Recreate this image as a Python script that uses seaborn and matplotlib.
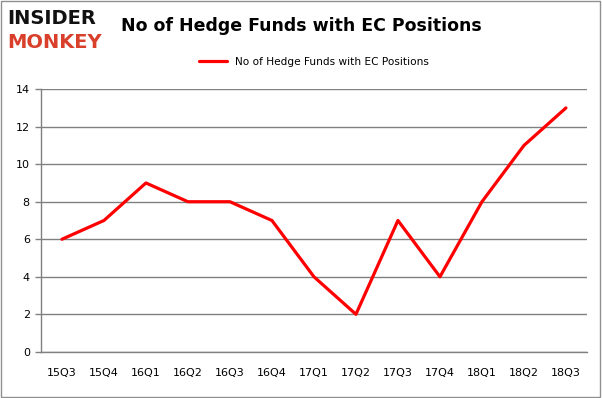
import matplotlib
matplotlib.use("Agg")
import matplotlib.pyplot as plt
import seaborn as sns
import pandas as pd
import numpy as np

quarters = ["15Q3", "15Q4", "16Q1", "16Q2", "16Q3", "16Q4", "17Q1",
            "17Q2", "17Q3", "17Q4", "18Q1", "18Q2", "18Q3"]
funds = [6, 7, 9, 8, 8, 7, 4, 2, 7, 4, 8, 11, 13]
series_name = "No of Hedge Funds with EC Positions"
y_ticks = [0, 2, 4, 6, 8, 10, 12, 14]

sns.set_style("white")
plt.rcParams['font.family'] = ['DejaVu Sans']

df = pd.DataFrame({"quarter": quarters, "funds": funds, "series": series_name})

fig = plt.figure(figsize=(6.02, 3.98), dpi=100)
ax = fig.add_axes([0.068, 0.116, 0.907, 0.660])

sns.lineplot(data=df, x=np.arange(len(quarters)), y="funds", hue="series",
             palette=["#FF0000"], linewidth=2.3, ax=ax)

ax.set_xlim(-0.5, len(quarters) - 0.5)
ax.set_ylim(0, 14)
ax.set_yticks(y_ticks)
ax.set_yticklabels([str(v) for v in y_ticks], fontsize=8, color="black")
ax.set_xticks(range(len(quarters)))
ax.set_xticklabels(quarters, fontsize=8, color="black")
ax.set_xticks(np.arange(-0.5, len(quarters), 1), minor=True)
ax.tick_params(axis="x", which="major", length=0, pad=12)
ax.tick_params(axis="x", which="minor", length=4, color="#808080", width=1)
ax.tick_params(axis="y", length=4, color="#808080", width=1, pad=4, direction="out", left=True)
ax.set_xlabel("")
ax.set_ylabel("")
ax.grid(axis="y", color="#808080", linewidth=1)
ax.set_axisbelow(True)
for side in ["top", "right"]:
    ax.spines[side].set_visible(False)
for side in ["left", "bottom"]:
    ax.spines[side].set_color("#808080")
    ax.spines[side].set_linewidth(1)

leg = ax.legend(loc="center", bbox_to_anchor=(0.5, 1.103), frameon=False,
                fontsize=7.6, handlelength=2.6)
for t in leg.get_texts():
    t.set_color("black")

fig.text(0.5, 0.935, series_name, ha="center", va="center",
         fontsize=12.5, fontweight="bold", color="black")
fig.text(0.012, 0.953, "INSIDER", ha="left", va="center", fontsize=14,
         fontweight="heavy", color="#111111")
fig.text(0.012, 0.893, "MONKEY", ha="left", va="center", fontsize=14,
         fontweight="heavy", color="#D9402B")

fig.patches.append(plt.Rectangle((0.002, 0.003), 0.995, 0.994, transform=fig.transFigure,
                                 fill=False, edgecolor="#909090", linewidth=1))

plt.savefig("out.png", dpi=100)
